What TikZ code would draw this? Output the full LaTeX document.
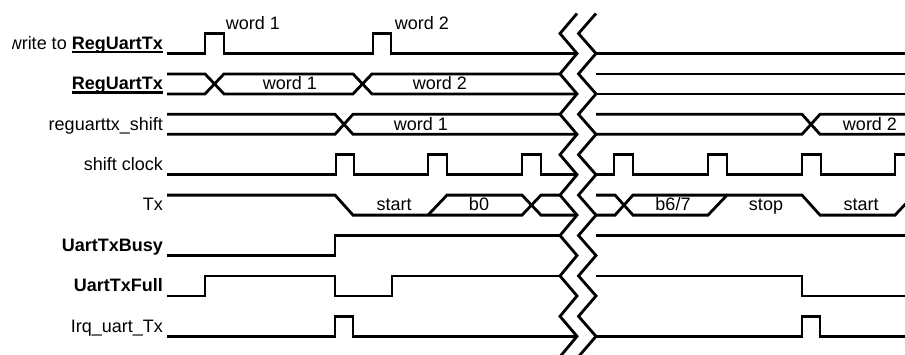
\documentclass[tikz,border=0pt]{standalone}
\usepackage{fontspec}
\setmainfont{Liberation Sans}
\newcommand\ulbf[1]{\setbox0\hbox{\textbf{#1}}\rlap{\vrule width\wd0 height -1.8pt depth 4pt}\box0}
\begin{document}
\begin{tikzpicture}[x=1pt,y=-1pt,
  sig/.style={line width=2.8pt, line join=miter},
  lbl/.style={anchor=base east, inner sep=0pt, font=\fontsize{18}{21}\selectfont},
  txt/.style={anchor=base, inner sep=0pt, font=\fontsize{18}{21}\selectfont}]
\useasboundingbox (0,0) rectangle (905,354);
% labels
\begin{scope}
\clip (12,0) rectangle (905,354);
\node[lbl] (l1) at (163,49.3) {write to \ulbf{RegUartTx}};
\end{scope}
\node[lbl] (l2) at (163,89.6) {\ulbf{RegUartTx}};
\node[lbl] (l3) at (163,130) {reguarttx\_shift};
\node[lbl] (l4) at (163,170.4) {shift clock};
\node[lbl] (l5) at (163,210.8) {Tx};
\node[lbl] (l6) at (163,251.2) {\textbf{UartTxBusy}};
\node[lbl] (l7) at (163,291.6) {\textbf{UartTxFull}};
\node[lbl] (l8) at (163,332) {Irq\_uart\_Tx};
% row 1
\draw[sig] (167,53.5) -- (205,53.5) -- (205,33.5) -- (224,33.5) -- (224,53.5) -- (373,53.5) -- (373,33.5) -- (391,33.5) -- (391,53.5) -- (577,53.5);
\draw[sig] (596,53.5) -- (905,53.5);
\node[txt] (w1) at (253,29) {word 1};
\node[txt] (w2) at (422,29) {word 2};
% row 2
\draw[sig] (167,73.9) -- (205,73.9) -- (224,93.9) -- (353,93.9) -- (372,73.9) -- (560,73.9);
\draw[sig] (167,93.9) -- (205,93.9) -- (224,73.9) -- (353,73.9) -- (372,93.9) -- (577,93.9);
\draw[sig] (596,73.9) -- (905,73.9);
\draw[sig] (596,93.9) -- (905,93.9);
\node[txt] (r2a) at (290,89.9) {word 1};
\node[txt] (r2b) at (440,89.9) {word 2};
% row 3
\draw[sig] (167,114.3) -- (335,114.3) -- (353,134.3) -- (577,134.3);
\draw[sig] (167,134.3) -- (335,134.3) -- (353,114.3) -- (560,114.3);
\draw[sig] (596,114.3) -- (802,114.3) -- (820,134.3) -- (905,134.3);
\draw[sig] (596,134.3) -- (802,134.3) -- (820,114.3) -- (905,114.3);
\node[txt] (r3a) at (421,130.3) {word 1};
\node[txt] (r3b) at (870,130.3) {word 2};
% row 4 shift clock
\draw[sig] (167,174.7) -- (336,174.7) -- (336,154.7) -- (354,154.7) -- (354,174.7)
  -- (428,174.7) -- (428,154.7) -- (447,154.7) -- (447,174.7)
  -- (522,174.7) -- (522,154.7) -- (541,154.7) -- (541,174.7) -- (577,174.7);
\draw[sig] (596,174.7) -- (614,174.7) -- (614,154.7) -- (633,154.7) -- (633,174.7)
  -- (708,174.7) -- (708,154.7) -- (727,154.7) -- (727,174.7)
  -- (802,174.7) -- (802,154.7) -- (821,154.7) -- (821,174.7)
  -- (895,174.7) -- (895,154.7) -- (906,154.7);
% row 5 Tx
\draw[sig] (167,195.1) -- (335,195.1) -- (353,215.1) -- (522,215.1) -- (541,195.1) -- (560,195.1);
\draw[sig] (428,215.1) -- (447,195.1) -- (522,195.1) -- (541,215.1) -- (577,215.1);
\draw[sig] (596,195.1) -- (615,195.1) -- (633,215.1) -- (708,215.1) -- (727,195.1) -- (802,195.1) -- (820,215.1) -- (895,215.1) -- (906,203.5);
\draw[sig] (596,215.1) -- (615,215.1) -- (633,195.1) -- (727,195.1);
\node[txt] (t1) at (394,210.3) {start};
\node[txt] (t2) at (479,210.3) {b0};
\node[txt] (t3) at (673,210.3) {b6/7};
\node[txt] (t4) at (766,210.3) {stop};
\node[txt] (t5) at (861,210.3) {start};
% row 6
\draw[sig] (167,255.5) -- (335,255.5) -- (335,235.5) -- (560,235.5);
\draw[sig] (596,235.5) -- (905,235.5);
% row 7
\draw[sig] (167,295.9) -- (205,295.9) -- (205,275.9) -- (335,275.9) -- (335,295.9) -- (392,295.9) -- (392,275.9) -- (560,275.9);
\draw[sig] (596,275.9) -- (802,275.9) -- (802,295.9) -- (905,295.9);
% row 8
\draw[sig] (167,336.3) -- (335,336.3) -- (335,316.3) -- (353,316.3) -- (353,336.3) -- (577,336.3);
\draw[sig] (596,336.3) -- (802,336.3) -- (802,316.3) -- (820,316.3) -- (820,336.3) -- (905,336.3);
% break zigzags
\draw[sig] (577,13.5) foreach \i in {0,...,7} { -- (560,{33.5+40.4*\i}) -- (577,{53.5+40.4*\i}) } -- (560,356.7);
\draw[sig] (596,13.5) foreach \i in {0,...,7} { -- (578.5,{33.5+40.4*\i}) -- (596,{53.5+40.4*\i}) } -- (578.5,356.7);
\end{tikzpicture}
\end{document}
